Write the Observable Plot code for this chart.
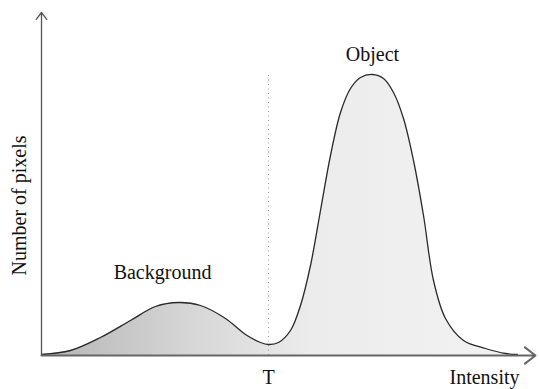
<!DOCTYPE html>
<html><head><meta charset="utf-8">
<script src="https://cdn.jsdelivr.net/npm/d3@7"></script>
<script src="https://cdn.jsdelivr.net/npm/@observablehq/plot@0.6"></script>
<style>body{margin:0;background:#fff}</style>
</head><body><div id="chart"></div>
<script>
// intensity (arbitrary units) and pixel counts (arbitrary units)
const intensity = [0,29,59,89,114,137,159,184,204,219,227,237,249,259,269,279,289,299,309,319,331,342,352,362,372,382,392,404,422,444,464,476];
const counts    = [1,5,18,35,49,53,50,37,21,13,11,13,25,50,90,145,200,243,267,278,281,277,263,237,195,140,75,37,15,7,2,1];
const threshold = 227;
const labels = [
  {x: 121, y: 83, text: "Background"},
  {x: 331, y: 301, text: "Object"}
];
const xLabel = "Intensity", yLabel = "Number of pixels", tLabel = "T";
const xMax = 494, yMax = 343;

const data = intensity.map((x, i) => ({x, y: counts[i]}));
const font = "Liberation Serif, Times New Roman, serif";

const chart = Plot.plot({
  width: 539, height: 389,
  marginLeft: 41, marginRight: 4, marginTop: 12, marginBottom: 34,
  x: {domain: [0, xMax], axis: null},
  y: {domain: [0, yMax], axis: null},
  style: {fontFamily: font, background: "#fff"},
  marks: [
    Plot.areaY(data, {x: "x", y: "y", curve: "catmull-rom", fill: "url(#hgrad)"}),
    Plot.ruleX([threshold], {y1: 0, y2: 280, stroke: "#999", strokeWidth: 1, strokeDasharray: "1,3.5"}),
    Plot.lineY(data, {x: "x", y: "y", curve: "catmull-rom", stroke: "#2a2a2a", strokeWidth: 1.3}),
    Plot.arrow([{x1: 0, y1: 0, x2: 0, y2: yMax}], {x1: "x1", y1: "y1", x2: "x2", y2: "y2", stroke: "#555", strokeWidth: 1.3, headLength: 10, headAngle: 75}),
    Plot.arrow([{x1: 0, y1: 0, x2: xMax, y2: 0}], {x1: "x1", y1: "y1", x2: "x2", y2: "y2", stroke: "#666", strokeWidth: 2, headLength: 10, headAngle: 75}),
    Plot.text(labels, {x: "x", y: "y", text: "text", fontSize: 20, fill: "#111"}),
    Plot.text([tLabel], {x: threshold, y: 0, dy: 22, fontSize: 20, fill: "#111"}),
    Plot.text([xLabel], {x: 443, y: 0, dy: 22, fontSize: 20, fill: "#111"}),
    Plot.text([yLabel], {x: 0, y: 150, dx: -22, rotate: -90, fontSize: 20, fill: "#111"})
  ]
});

const svg = d3.select(chart);
const defs = svg.insert("defs", ":first-child");
const g = defs.append("linearGradient").attr("id", "hgrad")
  .attr("gradientUnits", "userSpaceOnUse").attr("x1", 41).attr("x2", 535).attr("y1", 0).attr("y2", 0);
g.append("stop").attr("offset", "0%").attr("stop-color", "#b4b4b4");
g.append("stop").attr("offset", "30%").attr("stop-color", "#d6d6d6");
g.append("stop").attr("offset", "55%").attr("stop-color", "#ececec");
g.append("stop").attr("offset", "100%").attr("stop-color", "#f3f3f3");
document.getElementById("chart").appendChild(chart);
</script>
</body></html>
